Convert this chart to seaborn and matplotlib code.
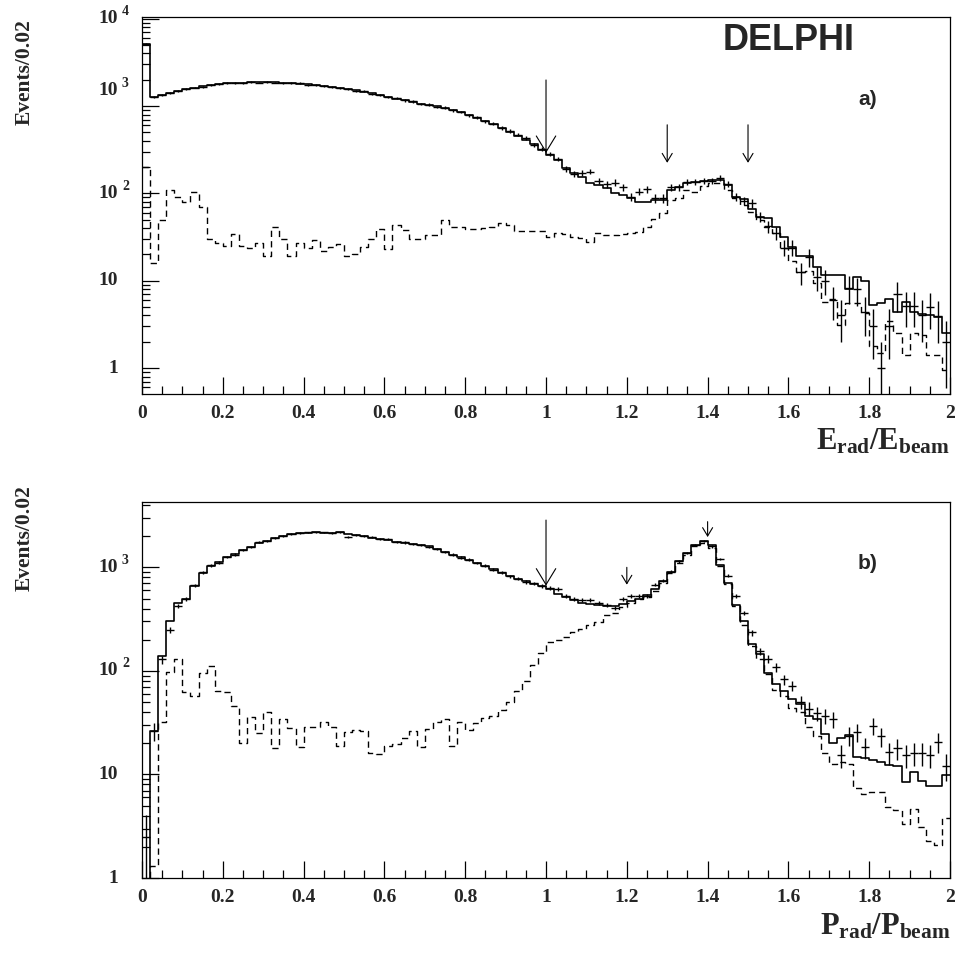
import numpy as np
import pandas as pd
import matplotlib
matplotlib.use("Agg")
import matplotlib.pyplot as plt
import seaborn as sns
from matplotlib.ticker import MultipleLocator, LogLocator, NullFormatter, FixedLocator

# ---------------- data (100 bins of width 0.02 from 0 to 2) ----------------
bin_lo, bin_hi, n_bins = 0.0, 2.0, 100

# panel a) E_rad/E_beam
solid_a = [5200, 1280, 1330, 1420, 1480, 1560, 1620, 1680, 1740, 1790,
           1820, 1840, 1860, 1870, 1880, 1880, 1870, 1860, 1840, 1810,
           1780, 1740, 1700, 1660, 1610, 1560, 1510, 1460, 1400, 1340,
           1270, 1220, 1170, 1120, 1070, 1030, 990, 950, 900, 850,
           790, 730, 680, 620, 565, 510, 460, 410, 365, 314,
           276, 241, 197, 170, 156, 133, 125, 114, 102, 96,
           88, 80, 80, 84, 84, 110, 118, 131, 136, 140,
           142, 142, 125, 92, 86, 67, 53, 52, 41.5, 31.4,
           24.5, 19.2, 19, 14.5, 11.6, 11.6, 11.6, 8.0, 11.0, 9.8,
           5.3, 5.5, 6.2, 4.4, 5.7, 4.4, 4.2, 4.0, 3.8, 2.5]
dashed_a = [200, 16, 50, 110, 92, 80, 105, 70, 30, 27,
            25, 34, 25, 23.6, 27, 19, 41, 30, 19, 27,
            24, 29, 22, 24.5, 26, 19, 20, 24.5, 30, 39,
            23, 43, 38, 30, 30, 33, 33, 50, 41, 41,
            39, 39, 40, 41, 46, 43, 37, 37, 37, 37,
            31.5, 35.5, 34, 32, 31, 28, 35, 33, 33, 34,
            35, 36, 41, 51, 60, 85, 88, 109, 105, 120,
            132, 130, 109, 89, 74, 62, 50, 41, 35, 24,
            17, 12.6, 13, 9.4, 5.7, 6.2, 3.1, 5.5, 5.5, 4.3,
            1.8, 1.5, 3.5, 2.5, 1.4, 2.5, 2.4, 1.4, 1.4, 0.95]
data_a = [5150, 1270, 1340, 1400, 1490, 1550, 1630, 1670, 1760, 1780,
          1830, 1820, 1850, 1880, 1860, 1890, 1860, 1850, 1830, 1820,
          1760, 1750, 1690, 1670, 1600, 1570, 1500, 1470, 1390, 1350,
          1260, 1230, 1160, 1130, 1060, 1040, 980, 960, 890, 860,
          780, 740, 670, 630, 560, 520, 470, 430, 357, 324,
          282, 248, 190, 167, 170, 178, 140, 128, 133, 117,
          91, 105, 111, 88, 88, 118, 117, 136, 136, 140,
          140, 150, 129, 92, 82, 77, 54, 42, 35, 24,
          24, 12.6, 18.7, 11, 10, 6.0, 4.0, 8.3, 8.0, 4.4,
          3.0, 1.0, 3.0, 7.0, 5.2, 5.2, 4.0, 5.0, 3.9, 2.0]

# panel b) P_rad/P_beam
solid_b = [0.8, 26, 139, 305, 452, 500, 665, 890, 1040, 1120,
           1250, 1340, 1470, 1585, 1735, 1810, 1910, 2000, 2085, 2140,
           2160, 2180, 2160, 2160, 2180, 2080, 2040, 2000, 1940, 1870,
           1850, 1760, 1730, 1680, 1640, 1590, 1500, 1420, 1320, 1250,
           1180, 1110, 1030, 960, 890, 830, 770, 730, 690, 665,
           620, 555, 515, 485, 455, 445, 435, 425, 425, 445,
           470, 495, 545, 620, 730, 910, 1140, 1370, 1650, 1780,
           1650, 1060, 705, 435, 300, 180, 144, 96, 74, 64,
           53, 48, 37, 34, 24.5, 20, 22.3, 24, 14.6, 14.3,
           13.8, 13.1, 12.3, 12.2, 8.5, 10.5, 8.7, 7.7, 7.7, 9.9]
dashed_b = [0.3, 1.3, 32, 97, 129, 62, 57, 95, 111, 64,
            62, 46, 20, 36, 25, 40, 18, 34, 28, 18.3,
            28.5, 28.5, 32, 28.5, 19, 25.5, 27, 26, 16, 15.7,
            19, 19.5, 22.7, 26, 18.3, 27.5, 32, 34, 18.7, 32,
            27, 31.5, 35, 37, 42, 50, 64, 80, 113, 150,
            190, 200, 213, 236, 254, 275, 295, 350, 363, 415,
            450, 490, 520, 590, 700, 880, 1100, 1330, 1600, 1720,
            1540, 1030, 690, 420, 280, 173, 129, 93, 66, 57,
            44, 40, 28.5, 23.3, 16.1, 12.6, 13.1, 12.6, 7.4, 6.5,
            6.8, 6.7, 4.9, 4.5, 3.3, 4.6, 3.1, 2.3, 2.07, 3.8]
data_b = [2.5, 26, 129, 250, 426, 500, 670, 900, 1050, 1110,
          1260, 1330, 1480, 1580, 1750, 1800, 1920, 1990, 2090, 2130,
          2170, 2170, 2170, 2150, 2170, 1950, 2050, 1990, 1950, 1860,
          1860, 1750, 1740, 1670, 1650, 1580, 1510, 1410, 1330, 1240,
          1190, 1100, 1040, 950, 900, 820, 780, 720, 700, 660,
          630, 620, 525, 495, 480, 480, 452, 435, 405, 495,
          525, 530, 525, 680, 745, 910, 1140, 1370, 1650, 1800,
          1590, 1200, 830, 525, 363, 235, 155, 131, 108, 83,
          72, 50, 43, 39, 37, 34, 15.4, 23.6, 25.8, 18.3,
          29.5, 23.3, 16.3, 17.9, 15.4, 16.1, 16.1, 15.4, 20.7, 12.2]

# arrows: (x, tail value, tip value, big head?)
arrows_a = [(1.0, 1990, 290, True), (1.3, 610, 224, False), (1.5, 610, 224, False)]
arrows_b = [(1.0, 2860, 665, True), (1.2, 1000, 680, False), (1.4, 2760, 1960, False)]

x_ticks = [0, 0.2, 0.4, 0.6, 0.8, 1.0, 1.2, 1.4, 1.6, 1.8, 2.0]
x_tick_labels = ["0", "0.2", "0.4", "0.6", "0.8", "1", "1.2", "1.4", "1.6", "1.8", "2"]
# y decade labels: (position, base, exponent)
ylab_a = [(1, "1", ""), (10, "10", ""), (100, "10", "2"), (1500, "10", "3"), (10000, "10", "4")]
ylab_b = [(1, "1", ""), (10, "10", ""), (100, "10", "2"), (1000, "10", "3")]

# ---------------- style ----------------
sns.set_theme(style="white")
plt.rcParams["font.family"] = ["Liberation Serif", "DejaVu Serif"]
plt.rcParams["mathtext.fontset"] = "custom"
plt.rcParams["mathtext.rm"] = "Liberation Serif:bold"
plt.rcParams["mathtext.it"] = "Liberation Serif:bold"
plt.rcParams["mathtext.bf"] = "Liberation Serif:bold"

edges = np.linspace(bin_lo, bin_hi, n_bins + 1)
centers = 0.5 * (edges[:-1] + edges[1:])
half_w = 0.5 * (edges[1] - edges[0])

fig = plt.figure(figsize=(9.57, 9.55), dpi=100)
ax_a = fig.add_axes([0.1484, 0.5874, 0.8443, 0.3948])
ax_b = fig.add_axes([0.1484, 0.0806, 0.8443, 0.3937])


def draw_panel(ax, solid, dashed, data, ylim, arrows, ylabs):
    df = pd.DataFrame({"x": centers, "solid": solid, "dashed": dashed, "data": data})
    sns.histplot(data=df, x="x", weights="dashed", bins=n_bins, binrange=(bin_lo, bin_hi),
                 element="step", fill=False, color="black", linewidth=1.0,
                 linestyle=(0, (4.5, 3.0)), ax=ax)
    sns.histplot(data=df, x="x", weights="solid", bins=n_bins, binrange=(bin_lo, bin_hi),
                 element="step", fill=False, color="black", linewidth=1.2, ax=ax)
    n = df["data"].to_numpy(dtype=float)
    err = np.sqrt(n)
    lower = np.minimum(err, n - 1e-4)
    ax.errorbar(df["x"], n, yerr=[lower, err], xerr=half_w, fmt="none",
                ecolor="black", elinewidth=1.0, capsize=0)
    ax.set_yscale("log")
    ax.set_xlim(bin_lo, bin_hi)
    ax.set_ylim(*ylim)
    ax.set_xlabel("")
    ax.set_ylabel("")
    for sp in ax.spines.values():
        sp.set_visible(True)
        sp.set_color("black")
        sp.set_linewidth(0.9)
    ax.xaxis.set_major_locator(FixedLocator(x_ticks))
    ax.xaxis.set_minor_locator(MultipleLocator(0.05))
    ax.set_xticklabels(x_tick_labels, fontsize=14, fontweight="bold")
    ax.yaxis.set_major_locator(LogLocator(base=10, numticks=10))
    ax.yaxis.set_minor_locator(LogLocator(base=10, subs=np.arange(2, 10), numticks=20))
    ax.yaxis.set_major_formatter(NullFormatter())
    ax.yaxis.set_minor_formatter(NullFormatter())
    ax.tick_params(axis="both", which="major", direction="in", length=12, width=0.9,
                   color="black", top=False, right=False, left=True, bottom=True)
    ax.tick_params(axis="both", which="minor", direction="in", length=6, width=0.9,
                   color="black", top=False, right=False, left=True, bottom=True)
    ax.tick_params(axis="x", which="major", pad=8)
    tr = ax.get_yaxis_transform()
    for val, base, expo in ylabs:
        ax.annotate(base, xy=(-0.0297, val), xycoords=tr, ha="right", va="center",
                    fontsize=14, fontweight="bold", annotation_clip=False)
        if expo:
            ax.annotate(expo, xy=(-0.0248, val), xycoords=tr, xytext=(0, 5),
                        textcoords="offset points", ha="left", va="center",
                        fontsize=10, fontweight="bold", annotation_clip=False)
    for x, tail, tip, big in arrows:
        hl, hw = (11.5, 7.0) if big else (6.0, 3.6)
        ax.annotate("", xy=(x, tip), xytext=(x, tail),
                    arrowprops=dict(arrowstyle=f"->,head_length={hl},head_width={hw}",
                                    mutation_scale=1, lw=0.8, color="black",
                                    shrinkA=0, shrinkB=0))


draw_panel(ax_a, solid_a, dashed_a, data_a, (0.504, 10470), arrows_a, ylab_a)
draw_panel(ax_b, solid_b, dashed_b, data_b, (1.0, 4270), arrows_b, ylab_b)

ax_a.text(0.80, 0.938, "DELPHI", transform=ax_a.transAxes, ha="center", va="center",
          fontsize=26, fontweight="bold", family=["Liberation Sans", "DejaVu Sans"])
ax_a.text(0.898, 0.78, "a)", transform=ax_a.transAxes, ha="center", va="center",
          fontsize=15, fontweight="bold", family=["Liberation Sans", "DejaVu Sans"])
ax_b.text(0.898, 0.836, "b)", transform=ax_b.transAxes, ha="center", va="center",
          fontsize=15, fontweight="bold", family=["Liberation Sans", "DejaVu Sans"])

fig.text(0.9927, 1 - 450 / 955, r"$\mathbf{E_{rad}/E_{beam}}$", ha="right", va="baseline",
         fontsize=22)
fig.text(0.9927, 1 - 934 / 955, r"$\mathbf{P_{rad}/P_{beam}}$", ha="right", va="baseline",
         fontsize=22)
fig.text(25 / 957, 1 - 72 / 955, "Events/0.02", rotation=90, ha="center", va="center",
         fontsize=15.5, fontweight="bold")
fig.text(25 / 957, 1 - 538 / 955, "Events/0.02", rotation=90, ha="center", va="center",
         fontsize=15.5, fontweight="bold")

fig.savefig("out.png", dpi=100, facecolor="white")
